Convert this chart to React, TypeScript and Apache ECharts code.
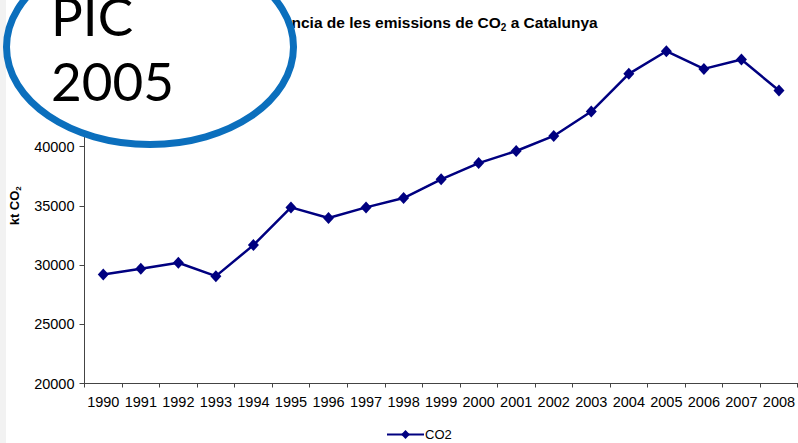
import React, { useEffect, useRef } from "react";
import * as echarts from "echarts";

const years = ["1990","1991","1992","1993","1994","1995","1996","1997","1998","1999","2000","2001","2002","2003","2004","2005","2006","2007","2008"];
const co2 = [29200, 29690, 30190, 29060, 31680, 34860, 33960, 34860, 35650, 37230, 38600, 39620, 40890, 42950, 46130, 48040, 46550, 47340, 44720];
const yMin = 20000;
const yMax = 50000;
const yStep = 5000;
const yLabelMax = 40000; // labels above this sit under the circled note
const seriesName = "CO2";
const overlayLines = ["PIC", "2005"];

export default function App() {
  const ref = useRef<HTMLDivElement>(null);
  useEffect(() => {
    if (!ref.current) return;
    const chart = echarts.init(ref.current, null, { renderer: "svg" });
    const font = "'Liberation Sans', Arial, sans-serif";
    const noteFont = "Lato, 'Liberation Sans', sans-serif";
    chart.setOption({
      animation: false,
      backgroundColor: "#ffffff",
      textStyle: { fontFamily: font },
      title: {
        text: "{b|Tendència de les emissions de CO}{s|2}{b| a Catalunya}",
        left: 242,
        top: 7,
        textStyle: {
          rich: {
            b: { fontSize: 15.5, fontWeight: "bold", color: "#000", lineHeight: 20, fontFamily: font },
            s: { fontSize: 10, fontWeight: "bold", color: "#000", lineHeight: 9, verticalAlign: "bottom", fontFamily: font },
          },
        },
      },
      legend: {
        data: [seriesName],
        left: 381,
        top: 423,
        itemWidth: 37,
        itemHeight: 11,
        itemGap: 2,
        textStyle: { fontSize: 13, color: "#000", fontFamily: font, padding: [0, 0, 0, -4] },
      },
      grid: { left: 84, top: 28, width: 717, height: 355.5, containLabel: false },
      xAxis: {
        type: "category",
        data: years,
        boundaryGap: true,
        axisLine: { lineStyle: { color: "#444", width: 1 } },
        axisTick: { show: true, length: 4, alignWithLabel: false, lineStyle: { color: "#444" } },
        axisLabel: { interval: 0, fontSize: 14.5, color: "#000", margin: 11, fontFamily: font },
        splitLine: { show: false },
      },
      yAxis: {
        type: "value",
        min: yMin,
        max: yMax,
        interval: yStep,
        name: "{b|kt CO}{s|2}",
        nameLocation: "middle",
        nameGap: 62,
        nameRotate: 90,
        nameTextStyle: {
          rich: {
            b: { fontSize: 13, fontWeight: "bold", color: "#000", lineHeight: 16, fontFamily: font },
            s: { fontSize: 8, fontWeight: "bold", color: "#000", lineHeight: 8, verticalAlign: "bottom", fontFamily: font },
          },
        },
        axisLine: { show: true, lineStyle: { color: "#444", width: 1 } },
        axisTick: { show: true, length: 5, lineStyle: { color: "#444" } },
        axisLabel: {
          fontSize: 14.5,
          color: "#000",
          margin: 10,
          fontFamily: font,
          formatter: (v: number) => (v > yLabelMax ? "" : String(v)),
        },
        splitLine: { show: false },
      },
      series: [
        {
          name: seriesName,
          type: "line",
          data: co2,
          symbol: "diamond",
          symbolSize: [11, 12],
          itemStyle: { color: "#000080" },
          lineStyle: { color: "#000080", width: 2.5 },
        },
      ],
      graphic: [
        {
          type: "rect",
          z: 0,
          silent: true,
          shape: { x: 0, y: 0, width: 6, height: 443 },
          style: { fill: "#f2f2f2" },
        },
        {
          type: "ellipse",
          z: 100,
          silent: true,
          shape: { cx: 150, cy: 47, rx: 143.5, ry: 97.5 },
          style: { fill: "#ffffff", stroke: "#0b6fbd", lineWidth: 7 },
        },
        {
          type: "text",
          z: 101,
          silent: true,
          x: 51,
          y: 15,
          style: { text: overlayLines[0], fontSize: 53, fontFamily: noteFont, fill: "#000", verticalAlign: "middle", align: "left" },
        },
        {
          type: "text",
          z: 101,
          silent: true,
          x: 51,
          y: 80.5,
          style: { text: overlayLines[1], fontSize: 53, fontFamily: noteFont, fill: "#000", verticalAlign: "middle", align: "left" },
        },
      ],
    });
    return () => chart.dispose();
  }, []);
  return <div ref={ref} style={{ position: "fixed", left: 0, top: 0, width: 798, height: 443 }} />;
}
